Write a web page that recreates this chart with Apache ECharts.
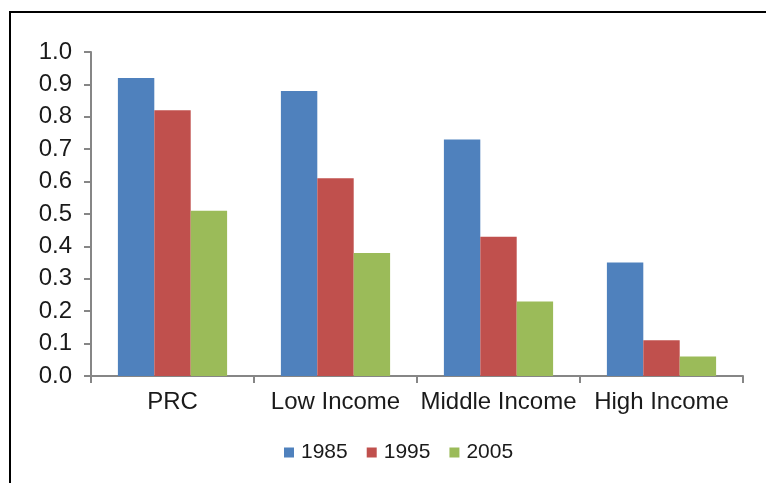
<!DOCTYPE html>
<html>
<head>
<meta charset="utf-8">
<script src="https://cdn.jsdelivr.net/npm/echarts@6/dist/echarts.min.js"></script>
<style>
  html, body { margin: 0; padding: 0; background: #fff; }
  #chart { width: 766px; height: 483px; }
</style>
</head>
<body>
<div id="chart"></div>
<script>
// categories and values
var categories = ['PRC', 'Low Income', 'Middle Income', 'High Income'];
var years = ['1985', '1995', '2005'];
var v1985 = [0.92, 0.88, 0.73, 0.35];
var v1995 = [0.82, 0.61, 0.43, 0.11];
var v2005 = [0.51, 0.38, 0.23, 0.06];
var colors = ['#4f81bd', '#c0504d', '#9bbb59'];

var axisGray = '#868686';
var font = 'Liberation Sans, Arial, sans-serif';

function bar(name, data, color) {
  return {
    name: name,
    type: 'bar',
    barGap: '0%',
    barCategoryGap: '33%',
    itemStyle: { color: color },
    data: data
  };
}

var option = {
  animation: false,
  textStyle: { fontFamily: font },
  grid: { left: 91, right: 23, top: 52, bottom: 107 },
  graphic: [{
    type: 'polyline',
    shape: { points: [[10, 483], [10, 12], [766, 12]] },
    style: { stroke: '#000', lineWidth: 2, fill: null }
  }],
  legend: {
    top: 437,
    left: 279,
    itemWidth: 10,
    itemHeight: 10,
    itemGap: 19,
    icon: 'rect',
    textStyle: { fontSize: 21, color: '#1a1a1a', fontFamily: font, padding: [0, 0, 0, 2] },
    data: years
  },
  xAxis: {
    type: 'category',
    data: categories,
    axisLine: { lineStyle: { color: axisGray, width: 2 } },
    axisTick: { show: true, length: 7, alignWithLabel: false, lineStyle: { color: axisGray, width: 2 } },
    axisLabel: { interval: 0, fontSize: 24, color: '#1a1a1a', margin: 14, fontFamily: font }
  },
  yAxis: {
    type: 'value',
    min: 0,
    max: 1,
    interval: 0.1,
    splitLine: { show: false },
    axisLine: { show: true, lineStyle: { color: axisGray, width: 2 } },
    axisTick: { show: true, length: 7, lineStyle: { color: axisGray, width: 2 } },
    axisLabel: {
      fontSize: 24, color: '#1a1a1a', margin: 19, fontFamily: font,
      formatter: function (v) { return v.toFixed(1); }
    }
  },
  series: [
    bar(years[0], v1985, colors[0]),
    bar(years[1], v1995, colors[1]),
    bar(years[2], v2005, colors[2])
  ]
};

var chart = echarts.init(document.getElementById('chart'));
chart.setOption(option);
</script>
</body>
</html>
